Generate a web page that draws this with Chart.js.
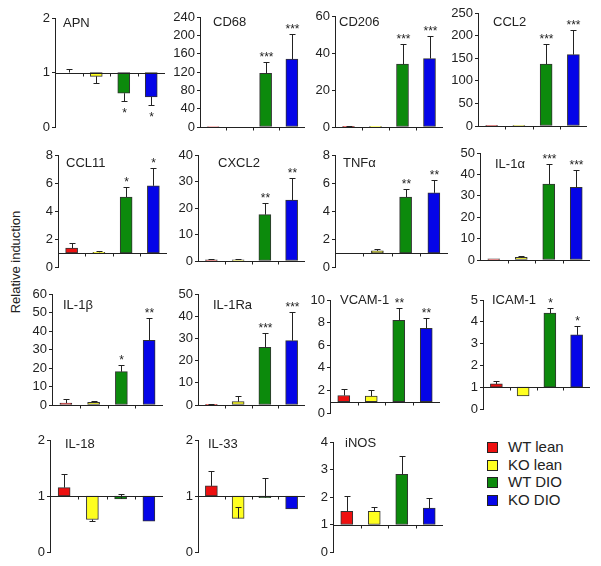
<!DOCTYPE html>
<html>
<head>
<meta charset="utf-8">
<script src="https://cdn.jsdelivr.net/npm/chart.js@4.4.1/dist/chart.umd.min.js"></script>
<style>
body{margin:0;background:#fff;width:601px;height:566px;position:relative;overflow:hidden;font-family:"Liberation Sans",Arial,sans-serif;color:#222}
canvas{position:absolute}
#ytitle{position:absolute;left:15px;top:262px;transform:translate(-50%,-50%) rotate(-90deg);font-size:13px;white-space:nowrap}
.leg{position:absolute;left:487px;font-size:15px;line-height:18px;white-space:nowrap}
.leg span{display:inline-block;width:9px;height:9px;border:1px solid #222;margin-right:10px;vertical-align:-1px}
</style>
</head>
<body>
<div id="ytitle">Relative induction</div>
<div id="legend"></div>
<script>
// groups and genes
const groups = ['WT lean', 'KO lean', 'WT DIO', 'KO DIO'];
const colors = ['#ee1010', '#ffff20', '#0c8a0c', '#0505e8'];
const genes = ['APN','CD68','CD206','CCL2','CCL11','CXCL2','TNF\u03b1','IL-1\u03b1',
  'IL-1\u03b2','IL-1Ra','VCAM-1','ICAM-1','IL-18','IL-33','iNOS'];

// axis ticks
const axisMax  = [2, 240, 60, 250, 8, 40, 8, 50, 60, 50, 10, 5, 2, 2, 4];
const axisStep = [1, 40, 20, 50, 2, 10, 2, 10, 10, 10, 2, 1, 1, 1, 1];
const baseline = [1, 0, 0, 0, 1, 0, 1, 0, 0, 0, 1, 1, 1, 1, 1];

// mean relative induction per group (gene order above)
const wtLean = [1.0, 1, 0.4, 1, 1.35, 0.4, 1.0, 0.5, 1, 0.3, 1.55, 1.15, 1.15, 1.18, 1.48];
const koLean = [0.93, -1.5, 0.1, 1, 1.05, 0.4, 1.15, 1.2, 1.5, 1.5, 1.5, 0.6, 0.58, 0.6, 1.48];
const wtDio  = [0.62, 117, 34, 137, 5.0, 17.5, 5.0, 35.5, 18, 26, 8.2, 4.4, 0.95, 0.97, 2.82];
const koDio  = [0.55, 148, 37, 158, 5.8, 23, 5.3, 34, 35, 29, 7.5, 3.4, 0.55, 0.77, 1.6];

// error bars (signed: + drawn up, - drawn down, 0 none)
const wtLeanErr = [0.07, 0, 0.3, 0, 0.35, 0.2, 0, 0, 2, 0.3, 0.6, 0.15, 0.25, 0.27, 0.57];
const koLeanErr = [-0.13, 0, 0, 0, 0.12, 0.2, 0.15, 0.5, 0.8, 2.5, 0.5, 0, -0.03, 0.2, 0.17];
const wtDioErr  = [-0.15, 25, 11, 45, 0.7, 4.5, 0.6, 9.5, 3.5, 6.5, 1.1, 0.25, 0.08, 0.36, 0.68];
const koDioErr  = [-0.15, 54, 12, 55, 1.3, 8.5, 0.9, 8, 12, 13, 0.9, 0.4, 0, 0, 0.35];

// significance vs lean
const wtDioStars = ['*','***','***','***','*','**','**','***','*','***','**','*','','',''];
const koDioStars = ['*','***','***','***','*','**','**','***','**','***','**','*','','',''];

// panel placement: axis x, top px, bottom px, axis end x, title x, title y
const layout = [
  [55, 18, 127, 165, 63, 23], [200, 17, 127, 305, 213, 22], [335, 16, 127, 443, 339, 22], [478, 13, 126, 587, 493, 22],
  [58, 155, 267, 167, 66, 163], [198, 155, 261, 305, 218, 163], [335, 155, 267, 448, 343, 163], [480, 153, 260, 590, 495, 164],
  [52, 294, 405, 163, 63, 305], [198, 294, 405, 305, 213, 305], [330, 300, 413, 440, 340, 300], [483, 300, 409, 590, 492, 300],
  [50, 440, 552, 163, 65, 444], [198, 440, 552, 305, 208, 444], [333, 442, 552, 443, 345, 443]
];

const series = [wtLean, koLean, wtDio, koDio];
const errs = [wtLeanErr, koLeanErr, wtDioErr, koDioErr];
const noStars = genes.map(() => '');
const stars = [noStars, noStars, wtDioStars, koDioStars];
const FONT = '"Liberation Sans", Arial, sans-serif';
const AXW = 40, PT = 12, PB = 10, PR = 4;

const decor = {
  id: 'decor',
  afterDatasetsDraw(chart, args, opt) {
    const i = opt.panel;
    const {ctx, chartArea} = chart;
    const x = chart.scales.x, y = chart.scales.y;
    const by = Math.round(y.getPixelForValue(baseline[i])) + 0.5;
    ctx.save();
    ctx.strokeStyle = '#222';
    ctx.lineWidth = 1;
    ctx.beginPath();
    ctx.moveTo(chartArea.left, by);
    ctx.lineTo(chartArea.right, by);
    for (let k = 1; k < 4; k++) {
      const tx = Math.round((x.getPixelForValue(k - 1) + x.getPixelForValue(k)) / 2) + 0.5;
      ctx.moveTo(tx, by);
      ctx.lineTo(tx, by + 3);
    }
    ctx.stroke();
    const meta = chart.getDatasetMeta(0);
    ctx.fillStyle = '#222';
    ctx.textAlign = 'center';
    ctx.font = '12px ' + FONT;
    series.forEach((s, g) => {
      const v = s[i], e = errs[g][i];
      const bx = Math.round(meta.data[g].x) + 0.5;
      const y1 = Math.round(y.getPixelForValue(v + e)) + 0.5;
      if (e) {
        const y0 = y.getPixelForValue(v);
        ctx.beginPath();
        ctx.moveTo(bx, y0);
        ctx.lineTo(bx, y1);
        ctx.moveTo(bx - 3, y1);
        ctx.lineTo(bx + 3, y1);
        ctx.stroke();
      }
      const st = stars[g][i];
      if (st) {
        if (v + e >= baseline[i]) ctx.fillText(st, bx, y1 - 2);
        else ctx.fillText(st, bx, y1 + 15);
      }
    });
    // gene name inside the panel
    ctx.textAlign = 'left';
    ctx.textBaseline = 'middle';
    ctx.font = '13px ' + FONT;
    ctx.fillText(genes[i], layout[i][4] - (layout[i][0] - AXW), layout[i][5] - (layout[i][1] - PT));
    ctx.restore();
  }
};

genes.forEach((gene, i) => {
  const [ax, top, bot, xe] = layout[i];
  const cv = document.createElement('canvas');
  const w = AXW + (xe - ax) + PR, h = (bot - top) + PT + PB;
  cv.width = w; cv.height = h;
  cv.style.left = (ax - AXW) + 'px';
  cv.style.top = (top - PT) + 'px';
  document.body.appendChild(cv);
  new Chart(cv, {
    type: 'bar',
    data: {
      labels: groups,
      datasets: [{
        data: series.map(s => [baseline[i], s[i]]),
        backgroundColor: colors,
        borderColor: '#333',
        borderWidth: 1,
        borderSkipped: false,
        barThickness: 12
      }]
    },
    options: {
      responsive: false,
      animation: false,
      layout: { padding: { top: PT, bottom: PB, right: PR, left: 0 } },
      plugins: { legend: { display: false }, tooltip: { enabled: false }, decor: { panel: i } },
      scales: {
        x: { display: false },
        y: {
          min: 0, max: axisMax[i],
          afterFit: s => { s.width = AXW; },
          ticks: { stepSize: axisStep[i], autoSkip: false, color: '#222', padding: 2, font: { size: 13, family: FONT } },
          grid: { drawOnChartArea: false, tickLength: 3, color: '#222' },
          border: { color: '#222' }
        }
      }
    },
    plugins: [decor]
  });
});

// legend
const legend = document.getElementById('legend');
groups.forEach((g, k) => {
  const d = document.createElement('div');
  d.className = 'leg';
  d.style.top = (438 + k * 17.5) + 'px';
  d.innerHTML = '<span style="background:' + colors[k] + '"></span>' + g;
  legend.appendChild(d);
});
</script>
</body>
</html>
